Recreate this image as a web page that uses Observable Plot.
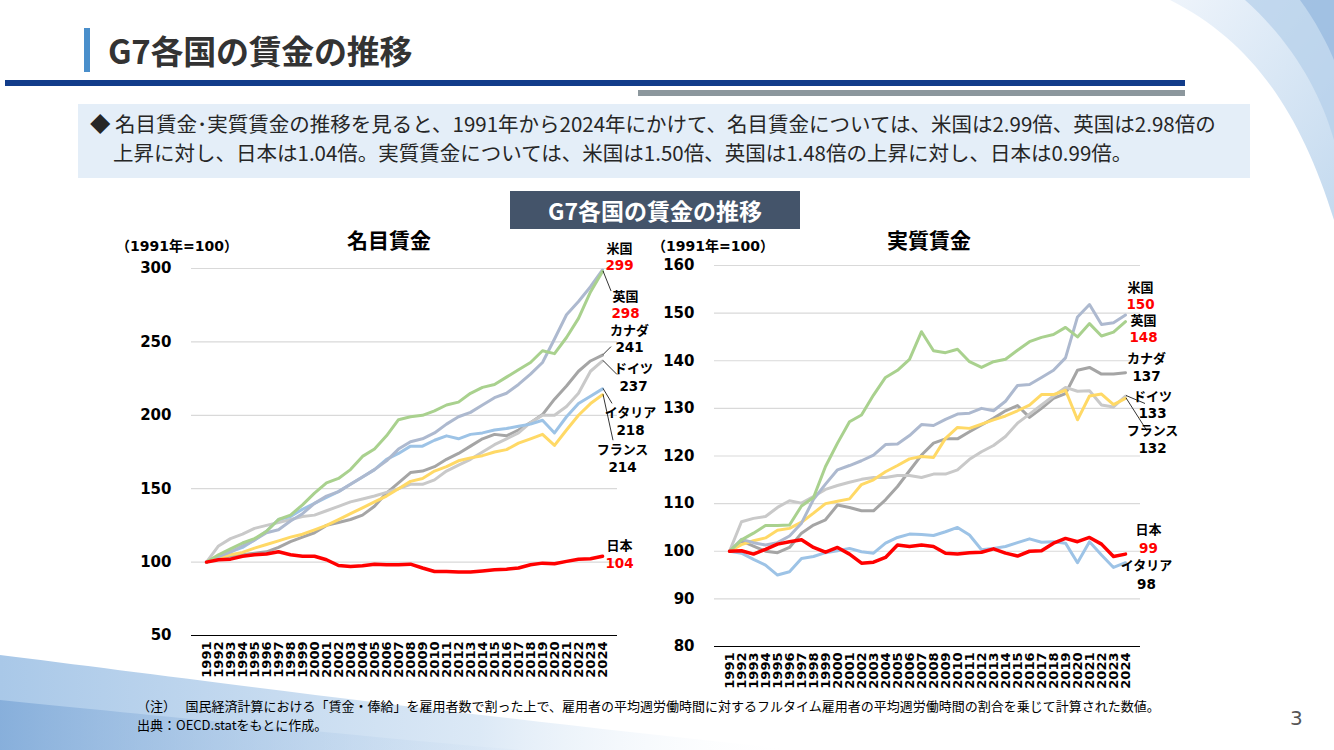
<!DOCTYPE html>
<html><head><meta charset="utf-8">
<script src="https://cdn.jsdelivr.net/npm/d3@7"></script>
<script src="https://cdn.jsdelivr.net/npm/@observablehq/plot@0.6"></script>
<style>
html,body{margin:0;padding:0;background:#fff;}
#page{position:relative;width:1334px;height:750px;overflow:hidden;font-family:"Noto Sans CJK JP","Noto Sans",sans-serif;color:#262626;}
.abs{position:absolute;}
#deco{position:absolute;left:0;top:0;}
#title{left:108px;top:26px;font-size:33px;font-weight:700;line-height:48px;color:#333;letter-spacing:-0.3px;}
#tbar{left:84px;top:28px;width:6px;height:44px;background:#4A8FCB;}
#navy{left:5px;top:80px;width:1180px;height:6px;background:#123C8A;}
#gray{left:638px;top:90px;width:547px;height:6px;background:#8C979D;}
#box{left:78px;top:104px;width:1172px;height:74px;background:#E4EEF8;}
#boxtext{left:90px;top:109px;font-size:20.5px;line-height:29px;color:#262626;white-space:nowrap;}
#ctitle{left:510px;top:191px;width:290px;height:38px;background:#44546A;color:#fff;font-size:23px;font-weight:700;text-align:center;line-height:38px;}
.sub{font-size:21px;font-weight:700;color:#000;}
.unit{font-size:14px;font-weight:700;color:#000;font-family:"DejaVu Sans","Noto Sans CJK JP",sans-serif;}
#note{left:137px;top:696px;font-size:13px;line-height:19px;color:#000;white-space:nowrap;}
#pno{left:1290px;top:706px;font-size:20px;color:#555;font-family:"DejaVu Sans",sans-serif;}
svg.plot{overflow:visible;}
</style></head>
<body><div id="page">
<svg id="deco" width="1334" height="750">
  <defs>
    <linearGradient id="g1" x1="0" y1="0" x2="1" y2="1">
      <stop offset="0" stop-color="#EEF4FB"/><stop offset="1" stop-color="#C4DAEF"/>
    </linearGradient>
    <linearGradient id="g2" x1="0" y1="0" x2="1" y2="0">
      <stop offset="0" stop-color="#A9C8E8"/><stop offset="0.6" stop-color="#DCE9F6"/><stop offset="1" stop-color="#FFFFFF" stop-opacity="0"/>
    </linearGradient>
    <linearGradient id="g3" x1="0" y1="0" x2="1" y2="0">
      <stop offset="0" stop-color="#7FA9D8"/><stop offset="1" stop-color="#CFE0F2" stop-opacity="0.2"/>
    </linearGradient>
  </defs>
  <path d="M1170,0 C1250,40 1300,110 1334,220 L1334,0 Z" fill="url(#g1)"/>
  <path d="M1245,0 C1290,40 1320,90 1334,140 L1334,0 Z" fill="#B3CEEA" opacity="0.7"/>
  <path d="M1300,0 C1315,20 1328,45 1334,60 L1334,0 Z" fill="#8DB3DC" opacity="0.6"/>
  <path d="M0,655 C200,680 500,720 800,750 L0,750 Z" fill="url(#g2)"/>
  <path d="M0,700 C150,715 350,735 520,750 L0,750 Z" fill="url(#g3)" opacity="0.8"/>
</svg>
<div id="tbar" class="abs"></div>
<div id="title" class="abs">G7各国の賃金の推移</div>
<div id="navy" class="abs"></div>
<div id="gray" class="abs"></div>
<div id="box" class="abs"></div>
<div id="boxtext" class="abs">◆ 名目賃金･実質賃金の推移を見ると、1991年から2024年にかけて、名目賃金については、米国は2.99倍、英国は2.98倍の<br><span style="padding-left:23px">上昇に対し、日本は1.04倍。実質賃金については、米国は1.50倍、英国は1.48倍の上昇に対し、日本は0.99倍。</span></div>
<div id="ctitle" class="abs">G7各国の賃金の推移</div>
<div class="abs sub" style="left:347px;top:224px;">名目賃金</div>
<div class="abs sub" style="left:887px;top:224px;">実質賃金</div>
<div class="abs unit" style="left:116px;top:235px;">（1991年=100）</div>
<div class="abs unit" style="left:652px;top:235px;">（1991年=100）</div>
<div id="left" class="abs" style="left:110px;top:255px;"></div>
<div id="right" class="abs" style="left:640px;top:252px;"></div>
<div id="note" class="abs">（注）　 国民経済計算における「賃金・俸給」を雇用者数で割った上で、雇用者の平均週労働時間に対するフルタイム雇用者の平均週労働時間の割合を乗じて計算された数値。<br>出典：OECD.statをもとに作成。</div>
<div id="pno" class="abs">3</div>
</div>
<script>
// ---- data ----
const years = [1991,1992,1993,1994,1995,1996,1997,1998,1999,2000,2001,2002,2003,2004,2005,2006,2007,2008,2009,2010,2011,2012,2013,2014,2015,2016,2017,2018,2019,2020,2021,2022,2023,2024];
const countries = ["カナダ","ドイツ","フランス","イタリア","米国","英国","日本"];

// 名目賃金 (1991=100)
const nomCanada  = [100,103,104,105,106,107,110,114,117,120,125,127,129,132,138,147,154,161,162,165,170,174,179,184,187,186,190,195,200.5,211,220,230,237,241];
const nomGermany = [100,111,116,119,123,125,127,129,131,132,135,138,141,143,145,147.5,150,153,153,156,162,166,170,175,180,184,188,195,200,200,206,215,230,237];
const nomFrance  = [100,103,105,106.6,109.5,112,114.5,117,119,122,125,129,133,137,141,145,150,155,157,162,165,169,171,172.5,175,176.6,181,184,187,179.5,190,200,208,214];
const nomItaly   = [100,104,107,110,115,121,129,131,136,140,144,148,153,158,163,170,174,179,179,183,186,184,187,188,190,191,192.5,194,196.6,188,199,208,213,218];
const nomUS      = [100,104,107,111,115,120,122,128,133,140,145,148,153,158,163,169,177,182,184,188,194,199,202,207,212,215,221,228,236,252,268.5,277.5,287.6,299];
const nomUK      = [100,105,109,113,116,121,129,132,139,147,154,157,163,172,177,186,197,199,200,203,207,209,215,219,221,226,231,236,244,242,253,266,284,298];
const nomJapan   = [100,101.6,102,104,105,105.5,107,105,104,104,101.6,97.7,97,97.5,98.6,98.2,98.2,98.6,96,93.6,93.6,93.2,93.2,94,94.8,95.2,96,98.2,99.3,98.9,100.5,102,102.3,104];

// 実質賃金 (1991=100)
const realCanada  = [100,102.2,101.1,100,99.7,100.8,103.8,105.5,106.6,109.7,109.2,108.5,108.5,110.8,113.6,116.9,120.2,122.7,123.6,123.6,125.1,126.5,127.9,129.5,130.6,128.1,130,132.1,133.1,138,138.6,137.2,137.2,137.5];
const realGermany = [100,106.2,106.9,107.3,109.2,110.6,110.1,111.5,113,113.8,114.5,115.1,115.5,115.5,115.9,115.9,115.5,116.2,116.2,117.1,119.3,120.9,122.2,124.1,126.9,128.8,130.7,132.6,134.4,133.6,133.7,130.7,130.3,132.6];
const realFrance  = [100,101.4,102.2,102.8,104.4,104.8,106.1,108,110,110.5,111,114,115,116.7,118,119.4,119.9,119.7,123.7,126,125.8,126.7,127.6,128.4,129.5,130.7,132.9,132.9,133.8,127.6,132.6,133,130.8,132.1];
const realItaly   = [100,99.6,98.3,97.1,95,95.7,98.5,98.9,99.7,100.1,100.6,99.9,99.6,101.7,102.9,103.6,103.5,103.3,104.1,105,103.4,100.3,100.6,101,101.8,102.6,101.9,102,101.7,97.6,102,99.2,96.6,97.6];
const realUS      = [100,102.5,101.8,101.3,101.8,103.2,105.9,110.9,114.1,117.1,118,119,120.2,122.4,122.5,124.3,126.6,126.4,127.7,128.8,129,130,129.5,131.5,134.8,135,136.5,138,140.6,149.2,151.8,147.6,148,149.6];
const realUK      = [100,102.4,103.8,105.4,105.4,105.5,109.5,111.3,117.8,122.7,127.2,128.6,132.8,136.5,138,140.3,146.1,142.1,141.7,142.4,139.8,138.6,139.8,140.3,142.2,144,144.9,145.5,147,145,147.8,145.2,146,148.2];
const realJapan   = [100,100.1,99.4,100.4,101.5,102,102.4,100.8,99.8,100.8,99.4,97.5,97.7,98.7,101.3,101,101.3,101,99.6,99.4,99.7,99.8,100.5,99.6,99,100,100.1,101.7,102.7,102,102.9,101.5,98.9,99.4];

// end-value labels
const nomEndLabels  = ["299","298","241","237","218","214","104"];
const realEndLabels = ["150","148","137","133","132","99","98"];
const leftTicks  = [50,100,150,200,250,300];
const rightTicks = [80,90,100,110,120,130,140,150,160];

// ---- styles ----
const colors = {"カナダ":"#A5A5A5","ドイツ":"#C9C9C9","フランス":"#FFD966","イタリア":"#9DC3E6","米国":"#ADB9CF","英国":"#A9D18E","日本":"#FF0000"};
const widths = {"カナダ":3,"ドイツ":3,"フランス":3,"イタリア":3,"米国":3,"英国":3,"日本":3.5};

function toRows(series) {
  const rows = [];
  for (const c of countries) series[c].forEach((v, i) => rows.push({year: years[i], country: c, value: v}));
  return rows;
}

const nomRows = toRows({"カナダ":nomCanada,"ドイツ":nomGermany,"フランス":nomFrance,"イタリア":nomItaly,"米国":nomUS,"英国":nomUK,"日本":nomJapan});
const realRows = toRows({"カナダ":realCanada,"ドイツ":realGermany,"フランス":realFrance,"イタリア":realItaly,"米国":realUS,"英国":realUK,"日本":realJapan});
const lastYear = years[years.length - 1];
function lastOf(rows, c) { return rows.filter(d => d.country === c && d.year === lastYear)[0].value; }

function leaderMark(rows, specs) {
  return (index, scales) => {
    const g = d3.create("svg:g").attr("stroke", "#000").attr("stroke-width", 0.8);
    for (const s of specs) {
      const x0 = scales.x(lastYear), y0 = scales.y(lastOf(rows, s.c));
      g.append("line").attr("x1", x0 + 1).attr("y1", y0).attr("x2", x0 + s.ex).attr("y2", y0 + s.ey);
    }
    return g.node();
  };
}

function labelMarks(labels) {
  const marks = [];
  for (const l of labels) {
    marks.push(Plot.text([l], {x: () => lastYear, y: d => d.yName, text: d => d.name, dx: l.dx, fill: "#000",
      fontFamily: "Noto Sans CJK JP", fontWeight: 700, fontSize: 13, textAnchor: "middle"}));
    marks.push(Plot.text([l], {x: () => lastYear, y: d => d.yNum, text: d => d.num, dx: l.dx, fill: l.red ? "#FF0000" : "#000",
      fontFamily: "DejaVu Sans", fontWeight: 700, fontSize: 13.5, textAnchor: "middle"}));
  }
  return marks;
}

function makeChart(opts) {
  const {rows, domain, ticks, width, height, ml, mr, mt, mb, labels, leaders} = opts;
  const lineMarks = countries.map(c => Plot.line(rows.filter(d => d.country === c),
    {x: "year", y: "value", stroke: colors[c], strokeWidth: widths[c], strokeLinejoin: "round", strokeLinecap: "round"}));
  return Plot.plot({
    width, height, marginLeft: ml, marginRight: mr, marginTop: mt, marginBottom: mb,
    style: {fontFamily: "DejaVu Sans", fontWeight: "bold", color: "#000", background: "transparent", overflow: "visible"},
    className: "plot",
    x: {type: "point", domain: years, padding: 0.5},
    y: {domain, ticks},
    marks: [
      Plot.gridY(ticks.slice(1), {stroke: "#D9D9D9", strokeOpacity: 1, strokeWidth: 1.2}),
      Plot.ruleY([domain[0]], {stroke: "#000", strokeWidth: 1.2}),
      Plot.axisY({ticks, tickSize: 0, tickPadding: 20, fontSize: 15, fontWeight: 700, label: null, fill: "#000"}),
      Plot.axisX({ticks: years, tickFormat: d => String(d), tickSize: 0, tickPadding: 6, tickRotate: -90, fontSize: 13, fontWeight: 700, label: null, fill: "#000"}),
      ...lineMarks,
      leaderMark(rows, leaders),
      ...labelMarks(labels)
    ]
  });
}

const nomLabels = [
  {name: "米国",    num: nomEndLabels[0], red: true,  yName: 313.6, yNum: 302,   dx: 17},
  {name: "英国",    num: nomEndLabels[1], red: true,  yName: 281,   yNum: 269.3, dx: 23},
  {name: "カナダ",  num: nomEndLabels[2], red: false, yName: 257.8, yNum: 246.2, dx: 27},
  {name: "ドイツ",  num: nomEndLabels[3], red: false, yName: 231.9, yNum: 219.6, dx: 31},
  {name: "イタリア",num: nomEndLabels[4], red: false, yName: 201.9, yNum: 189.6, dx: 28},
  {name: "フランス",num: nomEndLabels[5], red: false, yName: 176.7, yNum: 164.4, dx: 20},
  {name: "日本",    num: nomEndLabels[6], red: true,  yName: 111.3, yNum: 99,    dx: 17}
];
const nomLeaders = [
  {c: "英国", ex: 9, ey: 20},
  {c: "カナダ", ex: 9, ey: -8},
  {c: "ドイツ", ex: 15, ey: 14},
  {c: "イタリア", ex: 10, ey: 15},
  {c: "フランス", ex: 11, ey: 46}
];
const realLabels = [
  {name: "米国",    num: realEndLabels[0], red: true,  yName: 155.3, yNum: 151.8, dx: 15},
  {name: "英国",    num: realEndLabels[1], red: true,  yName: 148.4, yNum: 144.9, dx: 18},
  {name: "カナダ",  num: realEndLabels[2], red: false, yName: 140.5, yNum: 136.7, dx: 21},
  {name: "ドイツ",  num: realEndLabels[3], red: false, yName: 132.5, yNum: 128.9, dx: 27},
  {name: "フランス",num: realEndLabels[4], red: false, yName: 125.2, yNum: 121.5, dx: 27},
  {name: "日本",    num: realEndLabels[5], red: true,  yName: 104.4, yNum: 100.6, dx: 23},
  {name: "イタリア",num: realEndLabels[6], red: false, yName: 97,    yNum: 93,    dx: 21}
];
const realLeaders = [
  {c: "ドイツ", ex: 20, ey: 8},
  {c: "フランス", ex: 22, ey: 33}
];

document.getElementById("left").append(makeChart({
  rows: nomRows, domain: [50, 300], ticks: leftTicks, width: 540, height: 430, ml: 81, mr: 33, mt: 13, mb: 50,
  labels: nomLabels, leaders: nomLeaders
}));
document.getElementById("right").append(makeChart({
  rows: realRows, domain: [80, 160], ticks: rightTicks, width: 530, height: 440, ml: 74, mr: 30, mt: 13, mb: 46,
  labels: realLabels, leaders: realLeaders
}));
</script>
</body></html>
